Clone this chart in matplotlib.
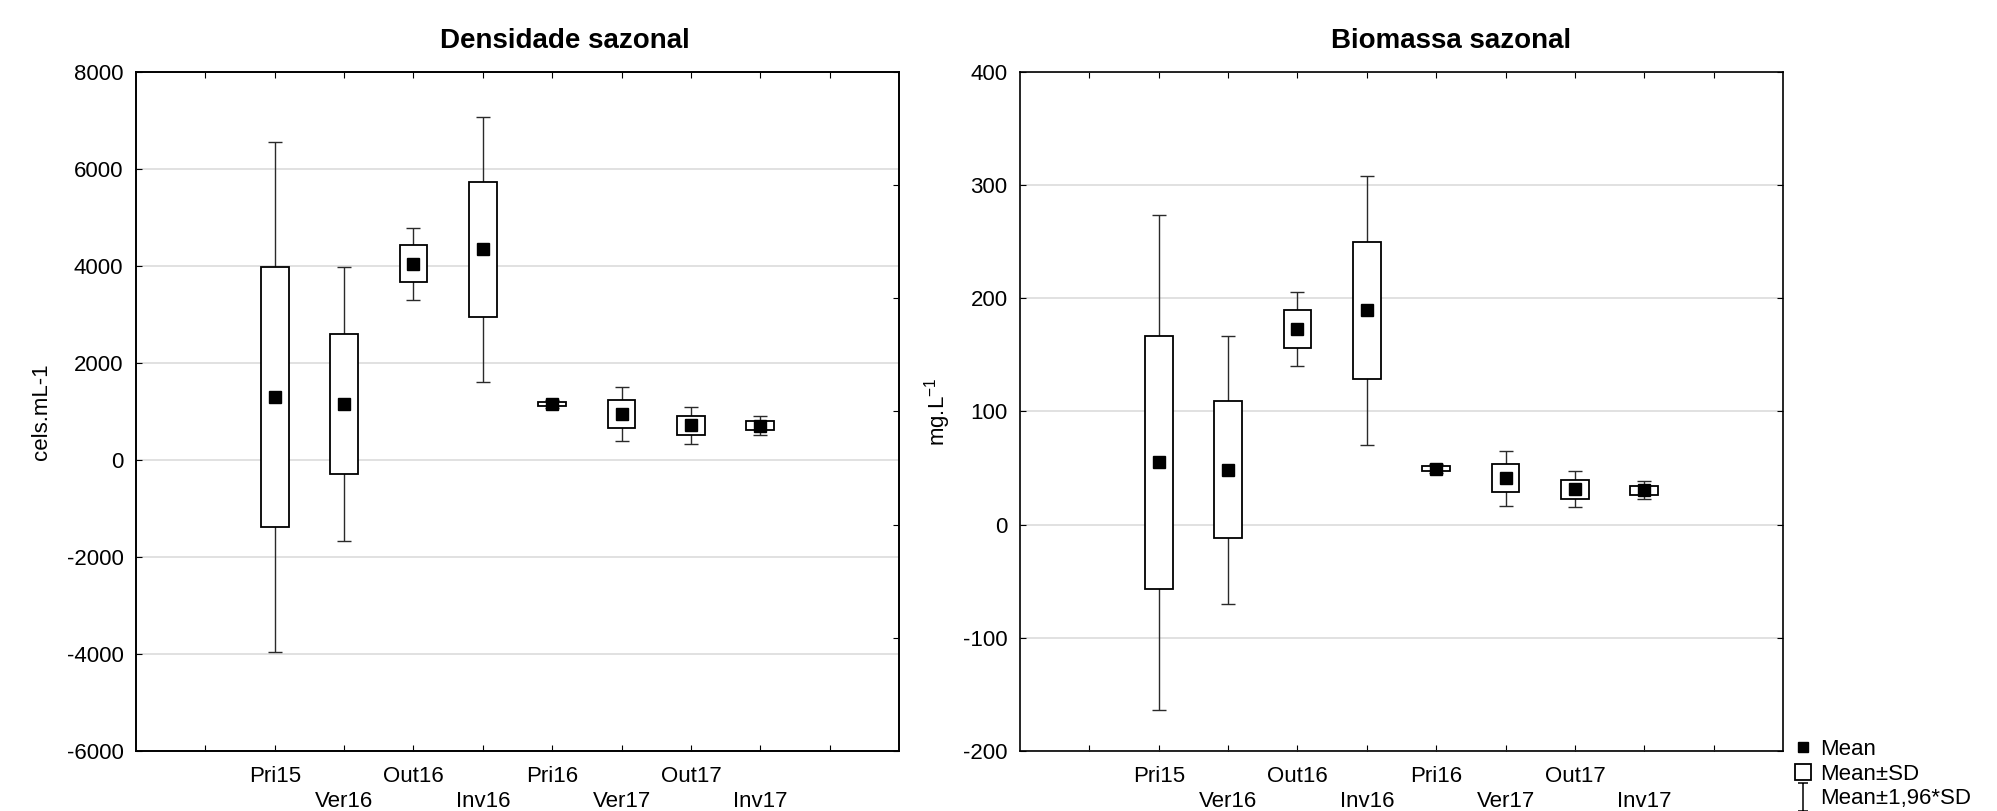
import numpy as np
import matplotlib.pyplot as plt
from matplotlib.lines import Line2D
from matplotlib.path import Path

plt.rcParams['font.family'] = ['Liberation Sans', 'DejaVu Sans']
plt.rcParams['mathtext.default'] = 'regular'
plt.rcParams['axes.unicode_minus'] = False

# data (mean and SD per season)
seasons = ["Pri15", "Ver16", "Out16", "Inv16", "Pri16", "Ver17", "Out17", "Inv17"]
dens_mean = [1300, 1160, 4045, 4345, 1147, 950, 720, 710]
dens_sd = [2680, 1440, 380, 1392, 42, 287, 195, 98]
bio_mean = [55, 48.5, 172.8, 189.3, 49.6, 41, 31.2, 30.5]
bio_sd = [111.7, 60.4, 16.7, 60.8, 2, 12.45, 8.1, 4]

W, H = 1997, 811
fig = plt.figure(figsize=(W / 100, H / 100), dpi=100)


def axes_px(l, r, t, b):
    return fig.add_axes([l / W, 1 - b / H, (r - l) / W, (b - t) / H])


x = np.arange(2, 10)


def draw(ax, mean, sd, ylim, step, ylabel, title, ylab_x, title_x):
    mean = np.asarray(mean, dtype=float)
    sd = np.asarray(sd, dtype=float)
    ax.set_xlim(0, 11)
    ax.set_ylim(*ylim)
    ax.set_yticks(np.arange(ylim[0], ylim[1] + step, step))
    ax.yaxis.grid(True, color='#dcdcdc', lw=1.2)
    ax.set_axisbelow(True)

    ax.errorbar(x, mean, yerr=1.96 * sd, fmt='none', ecolor='#2a2a2a',
                elinewidth=1.0, capsize=5, capthick=1.0, zorder=2)
    ax.bar(x, 2 * sd, bottom=mean - sd, width=0.4, facecolor='white',
           edgecolor='black', lw=1.3, zorder=3)
    ax.plot(x, mean, 's', color='black', ms=8.5, zorder=4)

    # staggered category labels: first row on major ticks, second on minor
    ax.set_xticks(np.arange(1, 11))
    top_row = [''] * 10
    for i, s in enumerate(seasons):
        if i % 2 == 0:
            top_row[x[i] - 1] = s
    ax.set_xticklabels(top_row)
    ax.set_xticks(x[1::2], minor=True)
    ax.set_xticklabels(seasons[1::2], minor=True)
    ax.xaxis.remove_overlapping_locs = False
    ax.tick_params(axis='x', which='major', direction='in', length=4,
                   top=True, pad=11, labelsize=16)
    ax.tick_params(axis='x', which='minor', length=0, pad=28.5, labelsize=16)
    ax.tick_params(axis='y', direction='in', length=4, pad=9, labelsize=16)

    for sp in ax.spines.values():
        sp.set_linewidth(1.2)

    ax.set_ylabel(ylabel, fontsize=16)
    ax.yaxis.set_label_coords(ylab_x, 0.5)
    ax.yaxis.label.set_va('center')
    ax.text(title_x, 1.045, title, transform=ax.transAxes, ha='center',
            va='center', fontsize=20, fontweight='bold')


ax1 = axes_px(136, 899, 72, 751)
draw(ax1, dens_mean, dens_sd, (-6000, 8000), 2000, 'cels.mL-1',
     'Densidade sazonal', (41 - 136) / 763, 0.562)
# right-hand ticks of the left panel follow the biomass scale
tw = ax1.twinx()
tw.set_ylim(-200, 400)
tw.set_yticks(np.arange(-200, 401, 100))
tw.tick_params(direction='in', length=4, labelright=False)
for sp in tw.spines.values():
    sp.set_linewidth(1.2)

ax2 = axes_px(1020, 1783, 72, 751)
draw(ax2, bio_mean, bio_sd, (-200, 400), 100, 'mg.L$^{-1}$',
     'Biomassa sazonal', (938 - 1020) / 763, 0.565)
ax2.tick_params(axis='y', right=True)

# legend
ibeam = Path([(-0.33, 1), (0.33, 1), (0, 1), (0, -1), (-0.33, -1), (0.33, -1)],
             [Path.MOVETO, Path.LINETO, Path.MOVETO, Path.LINETO,
              Path.MOVETO, Path.LINETO])
handles = [
    Line2D([], [], marker='s', color='black', ls='none', ms=6.5),
    Line2D([], [], marker='s', mfc='white', mec='black', mew=1.3, ls='none', ms=11),
    Line2D([], [], marker=ibeam, color='black', mew=1.1, ls='none', ms=20),
]
labels = ['Mean', 'Mean±SD', 'Mean±1,96*SD']
fig.legend(handles, labels, loc='center left', bbox_to_anchor=(1792 / W, (H - 774) / H),
           frameon=False, fontsize=16, handlelength=1.0, handletextpad=0.27,
           labelspacing=0.17, borderpad=0, borderaxespad=0)

fig.savefig('out.png', dpi=100, facecolor='white')
